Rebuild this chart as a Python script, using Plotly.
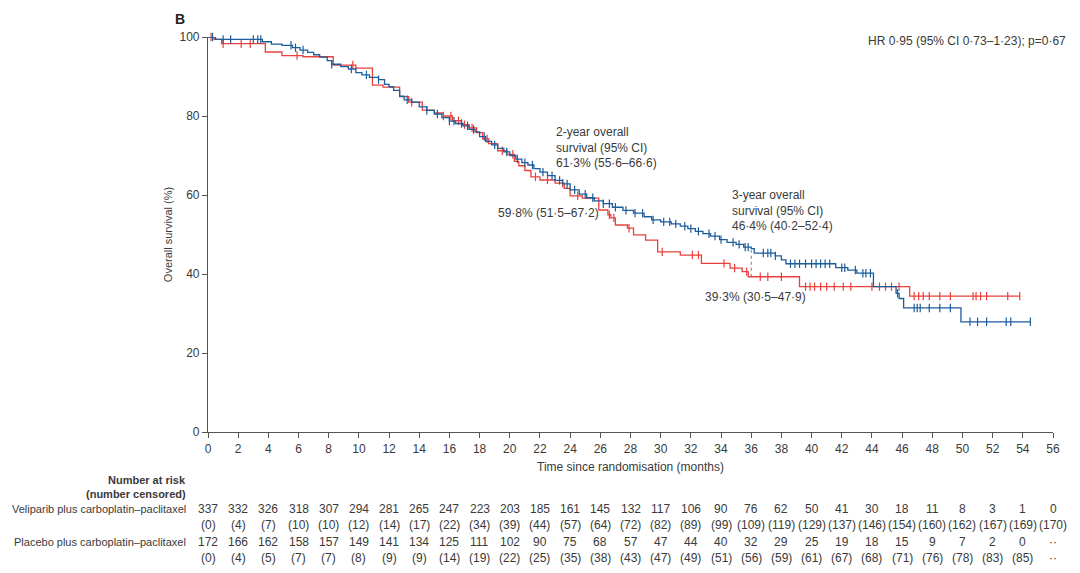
import numpy as np
import plotly.graph_objects as go

# ---------------- data ----------------
veli_t = [0, 0.5, 3.6, 4.2, 4.9, 5.6, 6.1, 6.6, 7.0, 7.4, 7.9, 8.2, 8.8, 9.3, 9.8, 10.2, 10.7,
          11.3, 11.7, 12.0, 12.3, 12.7, 13.0, 13.5, 14.0, 14.5, 15.0, 15.5, 16.0, 16.4, 16.9,
          17.3, 17.7, 18.0, 18.4, 18.8, 19.2, 19.6, 20.0, 20.4, 20.8, 21.2, 21.6, 22.0, 22.5,
          23.0, 23.5, 24.0, 24.6, 25.1, 25.6, 26.2, 26.8, 27.5, 28.2, 28.9, 29.4, 30.0, 30.7,
          31.3, 31.8, 32.3, 32.8, 33.3, 33.9, 34.4, 35.0, 35.5, 36.0, 36.2, 37.6, 38.0, 38.3,
          41.6, 42.4, 43.0, 44.1, 45.6, 45.8, 46.1, 49.9, 54.5]
veli_s = [100, 99.4, 98.8, 98.2, 97.9, 97.3, 96.7, 96.1, 95.5, 94.9, 94.0, 93.1, 92.5, 91.9, 91.0,
          90.4, 89.8, 89.2, 88.0, 87.4, 86.5, 85.0, 84.1, 83.5, 82.3, 81.4, 80.5, 79.6, 78.7,
          78.1, 77.5, 76.6, 76.0, 74.8, 73.6, 72.7, 71.8, 70.9, 70.0, 69.1, 68.2, 67.6, 66.7,
          65.8, 64.9, 63.7, 62.8, 61.3, 60.2, 59.3, 58.5, 57.8, 56.9, 56.1, 55.4, 54.5, 53.7,
          53.2, 52.7, 52.1, 51.5, 50.8, 50.2, 49.6, 48.7, 48.0, 47.5, 46.8, 46.4, 45.3, 44.6,
          43.6, 42.6, 41.6, 41.0, 40.2, 36.8, 35.1, 33.8, 31.4, 27.9, 27.9]
veli_cens = [0.3, 1.0, 1.5, 3.0, 3.3, 3.5, 5.5, 5.8, 6.3, 8.2, 9.5, 10.5, 11.3, 13.2, 14.5, 15.2,
             16.0, 16.3, 16.8, 17.2, 17.6, 18.3, 19.0, 19.8, 20.5, 21.0, 21.5, 22.2, 22.8, 23.3,
             23.8, 24.3, 25.0, 25.5, 26.2, 26.6, 27.0, 27.7, 28.3, 28.8, 29.5, 30.2, 30.6, 31.0,
             31.6, 32.0, 32.5, 33.2, 33.6, 34.0, 34.8, 35.2, 35.6, 35.8, 36.8, 37.1, 37.3, 37.6,
             38.6, 38.9, 39.2, 39.6, 40.0, 40.3, 40.6, 40.9, 41.2, 42.0, 42.2, 42.9, 43.4, 43.6,
             43.9, 45.7, 46.8, 47.0, 47.2, 47.8, 48.5, 49.2, 50.5, 51.0, 51.6, 52.9, 53.2, 54.5]

plac_t = [0, 0.4, 0.9, 3.8, 4.9, 6.3, 8.3, 9.8, 10.9, 11.6, 12.7, 13.3, 14.2, 15.0, 15.6, 16.2,
          16.8, 17.3, 17.8, 18.2, 18.6, 19.2, 19.8, 20.3, 20.6, 21.0, 21.4, 22.0, 23.0, 23.6,
          24.0, 24.8, 25.9, 26.5, 26.7, 27.0, 27.8, 28.2, 29.0, 29.8, 31.3, 32.7, 34.6, 35.4,
          35.8, 39.2, 46.5, 53.8]
plac_s = [100, 99.4, 98.3, 96.2, 95.3, 95.0, 92.9, 92.1, 87.8, 87.3, 84.9, 83.5, 81.5, 80.8,
          80.0, 78.8, 77.8, 77.0, 75.8, 74.2, 73.0, 71.2, 70.3, 68.5, 67.4, 66.2, 64.6, 63.8,
          63.0, 61.7, 59.8, 59.2, 56.2, 55.0, 54.2, 52.4, 51.6, 49.9, 48.6, 45.6, 44.8, 42.7,
          41.5, 40.6, 39.3, 36.8, 34.4, 34.4]
plac_cens = [0.2, 1.0, 2.2, 2.8, 5.9, 9.6, 13.5, 15.6, 16.1, 16.6, 17.0, 17.5, 18.5, 19.5, 20.2,
             21.7, 22.5, 23.5, 24.5, 26.6, 26.9, 27.9, 30.1, 32.1, 32.5, 34.2, 34.9, 35.7, 36.6,
             37.1, 38.0, 39.6, 39.9, 40.2, 40.6, 41.0, 41.5, 42.1, 42.6, 44.0, 44.5, 44.9, 45.3,
             45.8, 46.8, 47.1, 47.4, 47.8, 48.5, 49.2, 50.7, 50.9, 51.2, 51.6, 53.0, 53.8]

risk_times = list(range(0, 57, 2))
veli_risk = ["337", "332", "326", "318", "307", "294", "281", "265", "247", "223", "203", "185",
             "161", "145", "132", "117", "106", "90", "76", "62", "50", "41", "30", "18", "11",
             "8", "3", "1", "0"]
veli_censn = ["(0)", "(4)", "(7)", "(10)", "(10)", "(12)", "(14)", "(17)", "(22)", "(34)", "(39)",
              "(44)", "(57)", "(64)", "(72)", "(82)", "(89)", "(99)", "(109)", "(119)", "(129)",
              "(137)", "(146)", "(154)", "(160)", "(162)", "(167)", "(169)", "(170)"]
plac_risk = ["172", "166", "162", "158", "157", "149", "141", "134", "125", "111", "102", "90",
             "75", "68", "57", "47", "44", "40", "32", "29", "25", "19", "18", "15", "9", "7",
             "2", "0", "··"]
plac_censn = ["(0)", "(4)", "(5)", "(7)", "(7)", "(8)", "(9)", "(9)", "(14)", "(19)", "(22)",
              "(25)", "(35)", "(38)", "(43)", "(47)", "(49)", "(51)", "(56)", "(59)", "(61)",
              "(67)", "(68)", "(71)", "(76)", "(78)", "(83)", "(85)", "··"]

BLUE = "#1c5d9c"
RED = "#e8413c"
TXT = "#3a3a3a"
AX = "#555555"
FONT = "Liberation Sans Narrow, Liberation Sans, Arial Narrow, sans-serif"


def surv_at(times, survs, ct):
    idx = np.searchsorted(np.array(times), np.array(ct), side="right") - 1
    return [survs[i] for i in idx]


fig = go.Figure()
for t, s, c, col, name in [(plac_t, plac_s, plac_cens, RED, "Placebo"),
                           (veli_t, veli_s, veli_cens, BLUE, "Veliparib")]:
    fig.add_trace(go.Scatter(x=t, y=s, mode="lines", line=dict(color=col, width=1.3, shape="hv"),
                             name=name, showlegend=False, hoverinfo="skip"))
    fig.add_trace(go.Scatter(x=c, y=surv_at(t, s, c), mode="markers",
                             marker=dict(symbol="line-ns", size=6,
                                         line=dict(color=col, width=1.2)),
                             showlegend=False, hoverinfo="skip", cliponaxis=False))

fig.add_shape(type="line", x0=36, x1=36, y0=39.3, y1=46.4, xref="x", yref="y",
              line=dict(color="#777777", width=1, dash="dot"))

ann = []
def A(**kw):
    d = dict(showarrow=False, font=dict(family=FONT, size=12, color=TXT))
    d.update(kw)
    ann.append(d)

SMALL = dict(family=FONT, size=11, color=TXT)
A(text="<b>B</b>", xref="paper", yref="paper", x=-0.042, y=1.045, xanchor="left", yanchor="middle",
  font=dict(family="Liberation Sans, sans-serif", size=14, color="#222"))
A(text="HR 0·95 (95% CI 0·73–1·23); p=0·67", xref="paper", yref="paper", x=1.0177, y=0.99,
  xanchor="right", yanchor="middle")
A(text="2-year overall<br>survival (95% CI)<br>61·3% (55·6–66·6)", xref="x", yref="y", x=22.95,
  y=78.2, xanchor="left", yanchor="top", align="left")
A(text="59·8% (51·5–67·2)", xref="x", yref="y", x=19.06, y=55.4, xanchor="left", yanchor="middle")
A(text="3-year overall<br>survival (95% CI)<br>46·4% (40·2–52·4)", xref="x", yref="y", x=34.6,
  y=62.4, xanchor="left", yanchor="top", align="left")
A(text="39·3% (30·5–47·9)", xref="x", yref="y", x=32.8, y=34.2, xanchor="left", yanchor="middle")
A(text="Overall survival (%)", xref="paper", yref="paper", x=-0.047, y=0.499, textangle=-90,
  xanchor="center", yanchor="middle", font=SMALL)
A(text="Time since randomisation (months)", xref="paper", yref="paper", x=0.5, y=-0.089,
  xanchor="center", yanchor="middle")
A(text="<b>Number at risk</b>", xref="paper", yref="paper", x=-0.0236, y=-0.1215,
  xanchor="right", yanchor="middle", font=SMALL)
A(text="<b>(number censored)</b>", xref="paper", yref="paper", x=-0.0236, y=-0.157,
  xanchor="right", yanchor="middle", font=SMALL)
A(text="Veliparib plus carboplatin–paclitaxel", xref="paper", yref="paper", x=-0.0236, y=-0.195,
  xanchor="right", yanchor="middle", font=SMALL)
A(text="Placebo plus carboplatin–paclitaxel", xref="paper", yref="paper", x=-0.0236, y=-0.278,
  xanchor="right", yanchor="middle", font=SMALL)
for i, tt in enumerate(risk_times):
    for txt, yy in [(veli_risk[i], -0.195), (veli_censn[i], -0.235),
                    (plac_risk[i], -0.278), (plac_censn[i], -0.319)]:
        A(text=txt, xref="x", yref="paper", x=tt, y=yy, xanchor="center", yanchor="middle")

fig.update_layout(
    width=1064, height=557,
    margin=dict(l=200, r=15, t=29, b=133),
    paper_bgcolor="white", plot_bgcolor="white",
    font=dict(family=FONT, size=12, color=TXT),
    annotations=ann,
    xaxis=dict(range=[0, 56], dtick=2, tick0=0, showgrid=False, zeroline=False, showline=True,
               linecolor=AX, linewidth=1.2, ticks="outside", ticklen=5, tickcolor=AX,
               tickfont=dict(family=FONT, size=12, color=TXT)),
    yaxis=dict(range=[0, 100], dtick=20, tick0=0, showgrid=False, zeroline=False, showline=True,
               linecolor=AX, linewidth=1.2, ticks="outside", ticklen=5, tickcolor=AX,
               tickfont=dict(family=FONT, size=12, color=TXT)),
)

fig.write_html("out.html")
